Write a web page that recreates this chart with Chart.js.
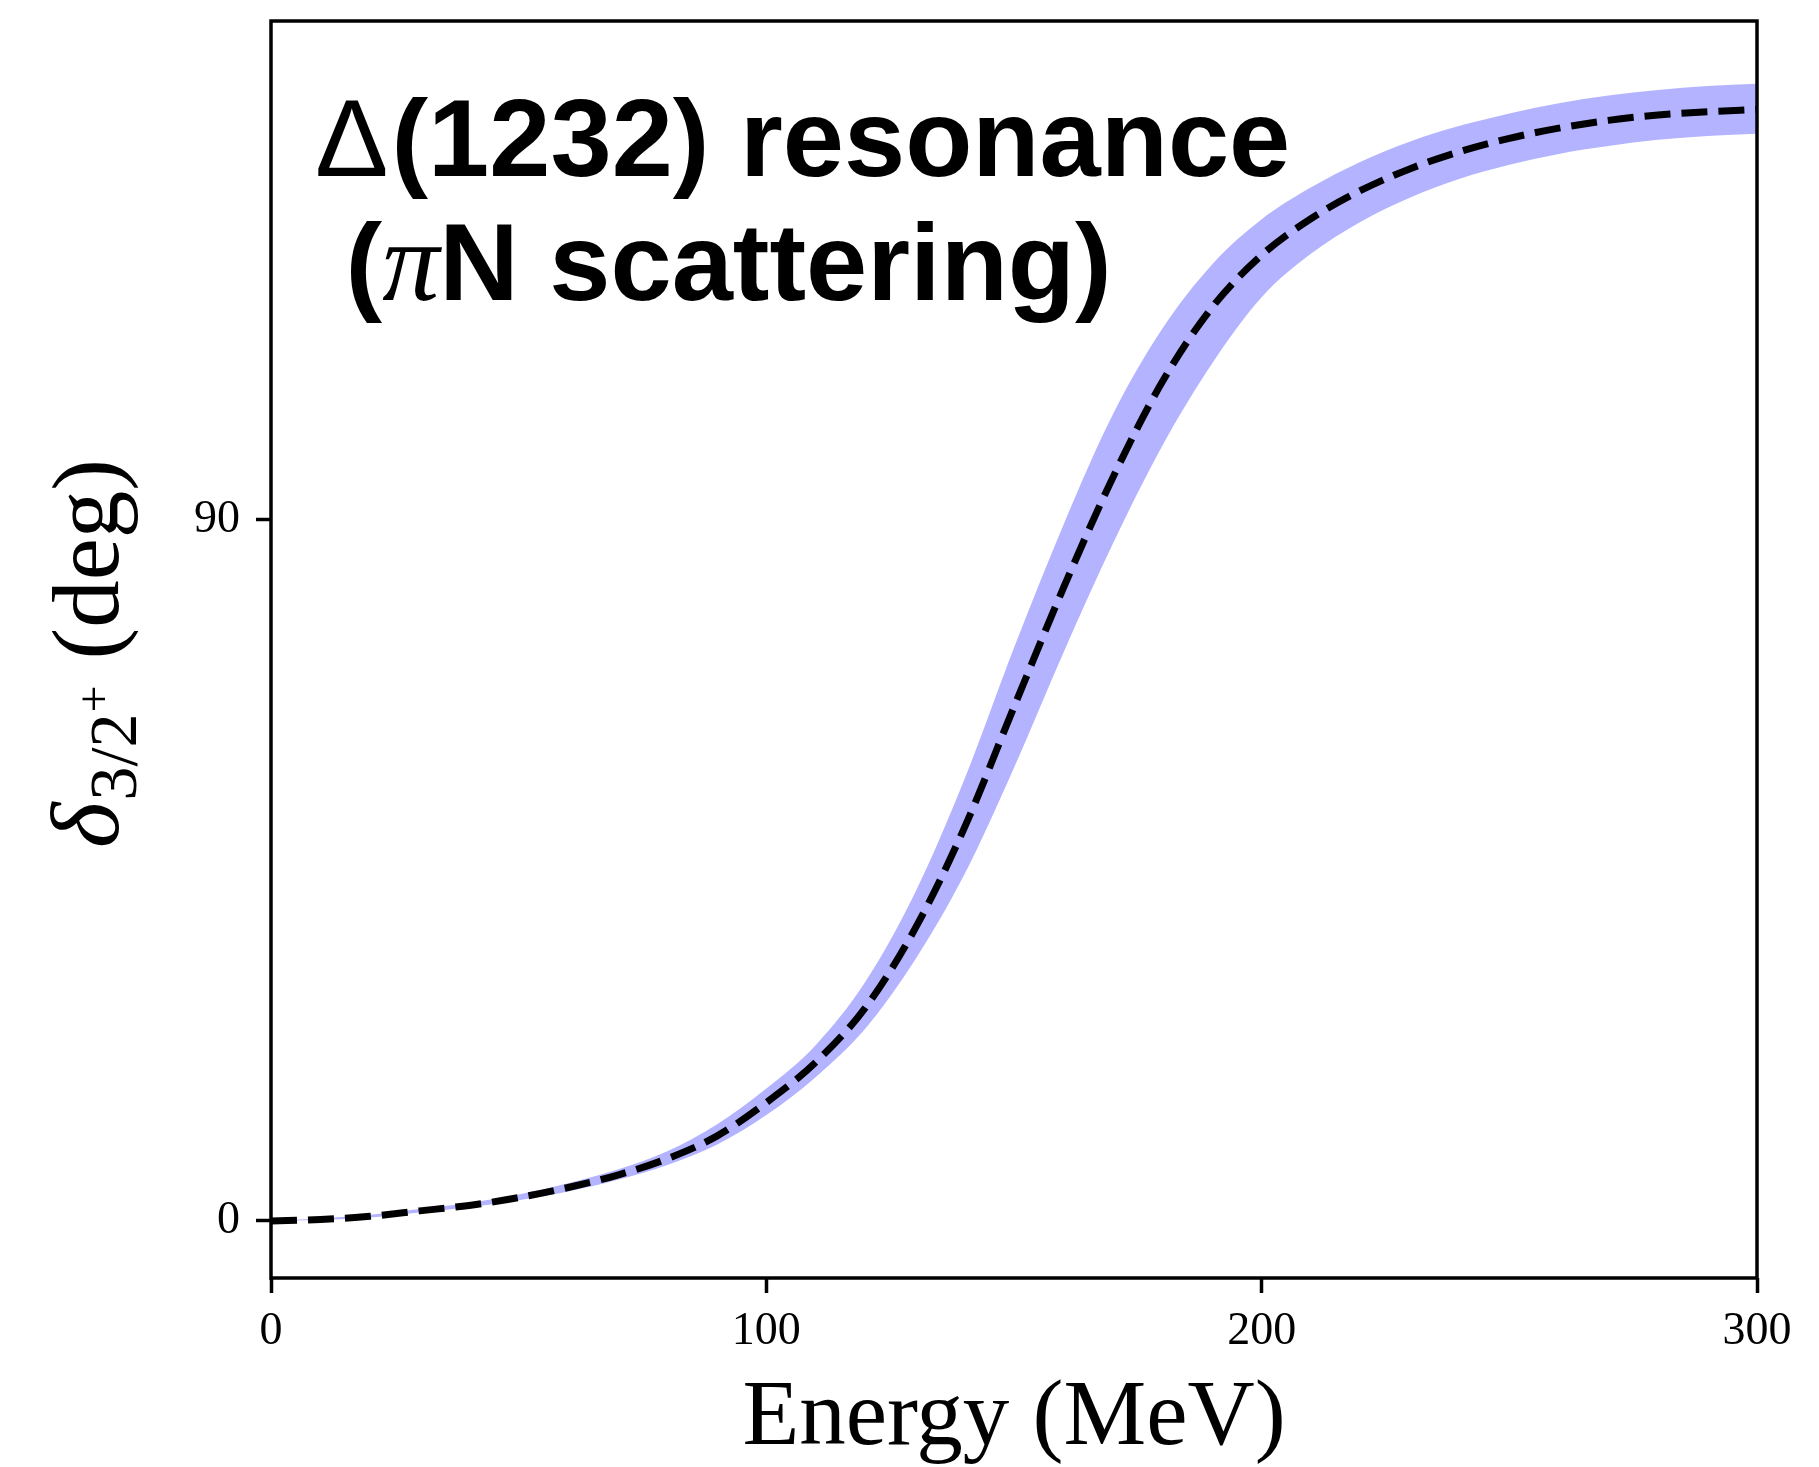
<!DOCTYPE html>
<html><head><meta charset="utf-8">
<script src="https://cdn.jsdelivr.net/npm/chart.js@4.4.1/dist/chart.umd.min.js"></script>
<style>html,body{margin:0;padding:0;background:#fff}canvas{display:block}</style>
</head><body>
<canvas id="c" width="1819" height="1467"></canvas>
<script>
// ---- data ----
const energy       = [0,10,20,30,40,50,60,70,80,90,100,110,120,130,140,150,160,170,180,190,200,210,220,230,240,250,260,270,280,290,300];
const phaseCentral = [0,0.2,0.6,1.3,2.0,3.0,4.3,5.9,8.0,10.9,15.2,20.4,27.4,37.5,50.5,66.0,81.3,95.5,107.8,117.3,124.0,128.7,132.3,135.1,137.3,139.0,140.3,141.3,142.0,142.4,142.7];
const phaseUpper   = [0,0.32,0.8,1.55,2.3,3.4,4.85,6.6,8.95,12.4,17.0,22.6,30.7,42.1,56.7,73.6,89.4,103.6,114.6,122.8,128.6,132.7,136.0,138.6,140.6,142.2,143.5,144.5,145.2,145.7,146.0];
const phaseLower   = [0,0.12,0.45,1.1,1.75,2.65,3.8,5.3,7.2,9.8,13.6,18.5,24.7,33.5,44.5,58.2,73.0,87.0,99.6,110.1,118.6,124.2,128.3,131.4,133.8,135.6,137.0,138.0,138.8,139.3,139.6];
const xTickValues  = [0,100,200,300];
const yTickValues  = [0,90];
const xRange = [0,300];
const yRange = [-7.32,154.06];
const xTitle = 'Energy (MeV)';
const line1Symbol = 'Δ', line1Rest = '(1232) resonance';
const line2Start = ' (', line2Pi = 'π', line2Rest = 'N scattering)';

const toPts = (xs, ys) => xs.map((x, i) => ({x: x, y: ys[i]}));

const framePlugin = {
  id: 'frameAndText',
  afterDraw(chart) {
    const ctx = chart.ctx, a = chart.chartArea;
    ctx.save();
    ctx.strokeStyle = '#000';
    ctx.lineWidth = 3.5;
    ctx.strokeRect(a.left, a.top, a.right - a.left, a.bottom - a.top);

    ctx.fillStyle = '#000';
    ctx.textBaseline = 'alphabetic';
    ctx.textAlign = 'left';
    let x = a.left + 44, y1 = a.top + 155, y2 = a.top + 279;
    ctx.font = 'normal 110px "Liberation Sans"';
    ctx.fillText(line1Symbol, x, y1);
    let w = ctx.measureText(line1Symbol).width;
    ctx.font = 'bold 110px "Liberation Sans"';
    ctx.fillText(line1Rest, x + w + 3, y1);

    ctx.font = 'bold 110px "Liberation Sans"';
    ctx.fillText(line2Start, x, y2);
    let w2 = ctx.measureText(line2Start).width;
    ctx.font = 'italic 114px "Liberation Serif"';
    ctx.fillText(line2Pi, x + w2, y2);
    w2 += ctx.measureText(line2Pi).width;
    ctx.font = 'bold 110px "Liberation Sans"';
    ctx.fillText(line2Rest, x + w2, y2);

    ctx.font = '93px "Liberation Serif"';
    ctx.textAlign = 'center';
    ctx.fillText(xTitle, (a.left + a.right) / 2, 1444);

    ctx.translate(118, (a.top + a.bottom) / 2 + 4);
    ctx.rotate(-Math.PI / 2);
    ctx.textAlign = 'left';
    const parts = [
      {t: 'δ', f: 'italic 98px "Liberation Serif"', dy: 0, gap: 2},
      {t: '3/2', f: '68px "Liberation Serif"', dy: 18, gap: 1},
      {t: '+', f: '48px "Liberation Serif"', dy: -8, gap: 26},
      {t: '(deg)', f: '95px "Liberation Serif"', dy: 0, gap: 0}
    ];
    let total = 0;
    parts.forEach(p => { ctx.font = p.f; p.w = ctx.measureText(p.t).width; total += p.w + p.gap; });
    total -= parts[parts.length - 1].gap;
    let cx = -total / 2;
    parts.forEach(p => { ctx.font = p.f; ctx.fillText(p.t, cx, p.dy); cx += p.w + p.gap; });
    ctx.restore();
  }
};

new Chart(document.getElementById('c'), {
  type: 'line',
  data: {
    datasets: [
      { data: toPts(energy, phaseCentral), borderWidth: 7, borderColor: '#000', borderDash: [26, 11],
        borderCapStyle: 'butt', pointRadius: 0, fill: false, cubicInterpolationMode: 'monotone' },
      { data: toPts(energy, phaseLower), borderWidth: 0, pointRadius: 0, fill: false,
        cubicInterpolationMode: 'monotone', borderColor: 'rgba(0,0,0,0)' },
      { data: toPts(energy, phaseUpper), borderWidth: 0, pointRadius: 0, fill: '-1',
        backgroundColor: '#b3b3ff', cubicInterpolationMode: 'monotone', borderColor: 'rgba(0,0,0,0)' }
    ]
  },
  options: {
    responsive: false, animation: false, devicePixelRatio: 1,
    layout: { padding: { left: 0, right: 62, top: 21, bottom: 0 } },
    plugins: { legend: { display: false }, tooltip: { enabled: false } },
    scales: {
      x: {
        type: 'linear', min: xRange[0], max: xRange[1],
        afterBuildTicks: s => { s.ticks = xTickValues.map(v => ({value: v})); },
        afterFit: s => { s.height = 189; s.paddingLeft = 0; s.paddingRight = 0; },
        border: { display: false },
        grid: { drawOnChartArea: false, drawTicks: true, tickLength: 15, tickWidth: 3.5, tickColor: '#000', color: '#000' },
        ticks: { color: '#000', font: { family: 'Liberation Serif', size: 46 }, padding: 11, maxRotation: 0 }
      },
      y: {
        type: 'linear', min: yRange[0], max: yRange[1],
        afterBuildTicks: s => { s.ticks = yTickValues.map(v => ({value: v})); },
        afterFit: s => { s.width = 271; s.paddingTop = 0; s.paddingBottom = 0; },
        border: { display: false },
        grid: { drawOnChartArea: false, drawTicks: true, tickLength: 15, tickWidth: 3.5, tickColor: '#000', color: '#000' },
        ticks: { color: '#000', font: { family: 'Liberation Serif', size: 46 }, padding: 16 }
      }
    }
  },
  plugins: [framePlugin]
});
</script>
</body></html>
